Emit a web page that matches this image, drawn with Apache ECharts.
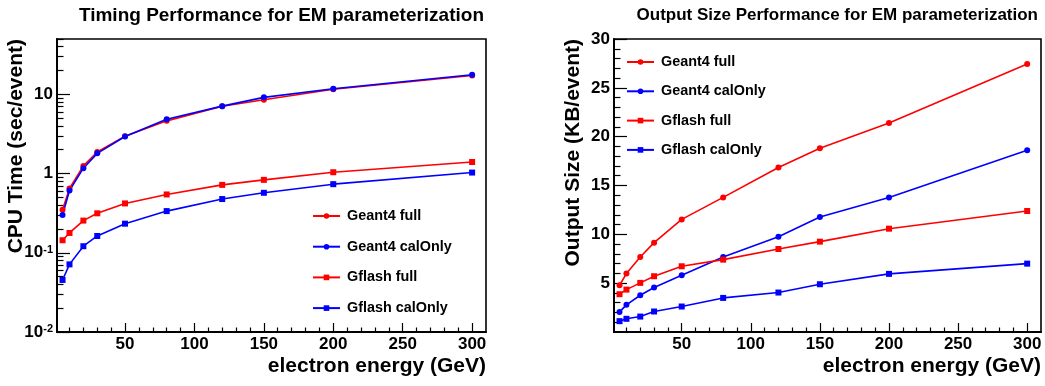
<!DOCTYPE html>
<html><head><meta charset="utf-8">
<script src="https://cdn.jsdelivr.net/npm/echarts@6/dist/echarts.min.js"></script>
<style>
html,body{margin:0;padding:0;background:#fff;overflow:hidden;width:1045px;height:386px}
#c1{position:absolute;left:0;top:0;width:520px;height:386px}
#c2{position:absolute;left:520px;top:0;width:525px;height:386px}
</style>
</head><body><div id="c1"></div><div id="c2"></div>
<script>
// ---------- data ----------
const energies = [5, 10, 20, 30, 50, 80, 120, 150, 200, 300];
const seriesNames = ['Geant4 full', 'Geant4 calOnly', 'Gflash full', 'Gflash calOnly'];

const cpuGeant4Full    = [0.35, 0.65, 1.25, 1.87, 2.97, 4.63, 7.07, 8.57, 11.6, 17.3];
const cpuGeant4CalOnly = [0.30, 0.61, 1.17, 1.80, 2.94, 4.86, 7.10, 9.17, 11.8, 17.7];
const cpuGflashFull    = [0.144, 0.178, 0.255, 0.315, 0.42, 0.545, 0.72, 0.833, 1.04, 1.40];
const cpuGflashCalOnly = [0.0454, 0.0714, 0.121, 0.163, 0.233, 0.336, 0.477, 0.572, 0.735, 1.03];

const sizeGeant4Full    = [4.79, 5.98, 7.68, 9.15, 11.53, 13.78, 16.85, 18.82, 21.41, 27.44];
const sizeGeant4CalOnly = [2.06, 2.78, 3.76, 4.55, 5.81, 7.68, 9.76, 11.77, 13.78, 18.62];
const sizeGflashFull    = [3.87, 4.34, 5.03, 5.71, 6.73, 7.41, 8.50, 9.25, 10.58, 12.39];
const sizeGflashCalOnly = [1.11, 1.35, 1.58, 2.10, 2.61, 3.49, 4.04, 4.89, 5.95, 7.00];

const xMajorTicks = [50, 100, 150, 200, 250, 300];
const xMinorTicks = [10, 20, 30, 40, 60, 70, 80, 90, 110, 120, 130, 140, 160, 170, 180, 190, 210, 220, 230, 240, 260, 270, 280, 290];
const cpuMajorTicks = [0.01, 0.1, 1, 10];
const cpuMinorTicks = [0.02, 0.03, 0.04, 0.05, 0.06, 0.07, 0.08, 0.09, 0.2, 0.3, 0.4, 0.5, 0.6, 0.7, 0.8, 0.9, 2, 3, 4, 5, 6, 7, 8, 9, 20, 30, 40, 50];
const sizeMajorTicks = [5, 10, 15, 20, 25, 30];
const sizeMinorTicks = [1, 2, 3, 4, 6, 7, 8, 9, 11, 12, 13, 14, 16, 17, 18, 19, 21, 22, 23, 24, 26, 27, 28, 29];

// ---------- styling ----------
const FONT = '"Liberation Sans", Arial, Helvetica, sans-serif';
const RED = '#ff0000', BLUE = '#0000ff';
const seriesStyle = [
  {color: RED, symbol: 'circle', size: 6},
  {color: BLUE, symbol: 'circle', size: 6},
  {color: RED, symbol: 'rect', size: 6},
  {color: BLUE, symbol: 'rect', size: 6}
];

function buildSeries(arrays) {
  return arrays.map((arr, i) => ({
    name: seriesNames[i],
    type: 'line',
    xAxisIndex: 0, yAxisIndex: 0,
    data: energies.map((e, j) => [e, arr[j]]),
    symbol: seriesStyle[i].symbol,
    symbolSize: seriesStyle[i].size,
    showSymbol: true,
    itemStyle: {color: seriesStyle[i].color},
    lineStyle: {color: seriesStyle[i].color, width: 1.6},
    emphasis: {disabled: true},
    silent: true
  }));
}

function xAxes() {
  const base = {type: 'value', min: 1, max: 310, position: 'bottom', splitLine: {show: false}};
  return [
    Object.assign({}, base, {
      axisLine: {show: true, onZero: false, lineStyle: {color: '#000', width: 2}},
      axisTick: {show: true, inside: true, length: 9, customValues: xMajorTicks, lineStyle: {color: '#000', width: 1.2}},
      axisLabel: {show: true, customValues: xMajorTicks, color: '#000', fontSize: 17, fontWeight: 'bold', fontFamily: FONT, margin: 4}
    }),
    Object.assign({}, base, {
      axisLine: {show: false, onZero: false},
      axisTick: {show: true, inside: true, length: 4.5, customValues: xMinorTicks, lineStyle: {color: '#000', width: 1.2}},
      axisLabel: {show: false}
    })
  ];
}

function yAxes(type, min, max, major, minor, majorLen, minorLen, formatter, rich) {
  const base = {type: type, min: min, max: max, position: 'left', splitLine: {show: false}};
  if (type === 'log') base.logBase = 10;
  const lab = {show: true, customValues: major, color: '#000', fontSize: 17, fontWeight: 'bold', fontFamily: FONT, margin: 4};
  if (formatter) lab.formatter = formatter;
  if (rich) lab.rich = rich;
  return [
    Object.assign({}, base, {
      axisLine: {show: true, onZero: false, lineStyle: {color: '#000', width: 2}},
      axisTick: {show: true, inside: true, length: majorLen, customValues: major, lineStyle: {color: '#000', width: 1.2}},
      axisLabel: lab
    }),
    Object.assign({}, base, {
      axisLine: {show: false, onZero: false},
      axisTick: {show: true, inside: true, length: minorLen, customValues: minor, lineStyle: {color: '#000', width: 1.2}},
      axisLabel: {show: false}
    })
  ];
}

function legendCfg(left, top, gap) {
  return {
    orient: 'vertical', left: left, top: top, padding: 0,
    itemWidth: 27, itemHeight: 7, itemGap: gap,
    selectedMode: false,
    data: seriesNames,
    textStyle: {fontSize: 14.4, fontWeight: 'bold', fontFamily: FONT, color: '#000', lineHeight: 16, padding: [0, 0, 0, 2]}
  };
}

function txt(x, y, text, size, align, rot) {
  return {
    type: 'text', x: x, y: y, rotation: rot || 0, silent: true,
    style: {text: text, fill: '#000', font: 'bold ' + size + 'px ' + FONT, align: align, verticalAlign: 'middle'}
  };
}

// ---------- left chart ----------
const ch1 = echarts.init(document.getElementById('c1'), null, {renderer: 'canvas'});
ch1.setOption({
  animation: false,
  backgroundColor: '#fff',
  grid: {left: 57, right: 34, top: 39, bottom: 54, show: true, borderColor: '#000', borderWidth: 1.6, backgroundColor: 'transparent', containLabel: false},
  xAxis: xAxes(),
  yAxis: yAxes('log', 0.01, 50, cpuMajorTicks, cpuMinorTicks, 13, 6.5,
    function (v) {
      const e = Math.round(Math.log10(v));
      if (e < 0) return '{b|10}{s|' + e + '}';
      return '{b|' + Math.round(v) + '}';
    },
    {
      b: {fontSize: 17, fontWeight: 'bold', fontFamily: FONT, color: '#000', verticalAlign: 'bottom'},
      s: {fontSize: 11, fontWeight: 'bold', fontFamily: FONT, color: '#000', verticalAlign: 'top'}
    }),
  legend: legendCfg(312, 208, 14.7),
  series: buildSeries([cpuGeant4Full, cpuGeant4CalOnly, cpuGflashFull, cpuGflashCalOnly]),
  graphic: [
    txt(484, 16, 'Timing Performance for EM parameterization', 19, 'right'),
    txt(486, 366, 'electron energy (GeV)', 21, 'right'),
    txt(16, 39, 'CPU Time (sec/event)', 21, 'right', Math.PI / 2)
  ]
});

// ---------- right chart ----------
const ch2 = echarts.init(document.getElementById('c2'), null, {renderer: 'canvas'});
ch2.setOption({
  animation: false,
  backgroundColor: '#fff',
  grid: {left: 94, right: 4, top: 39, bottom: 54, show: true, borderColor: '#000', borderWidth: 1.6, backgroundColor: 'transparent', containLabel: false},
  xAxis: xAxes(),
  yAxis: yAxes('value', 0, 30, sizeMajorTicks, sizeMinorTicks, 13, 6.5, null, null),
  legend: legendCfg(106, 54, 13.3),
  series: buildSeries([sizeGeant4Full, sizeGeant4CalOnly, sizeGflashFull, sizeGflashCalOnly]),
  graphic: [
    txt(518, 15, 'Output Size Performance for EM parameterization', 17, 'right'),
    txt(521, 366, 'electron energy (GeV)', 21, 'right'),
    txt(53.5, 39, 'Output Size (KB/event)', 21, 'right', Math.PI / 2)
  ]
});
</script>
</body></html>
